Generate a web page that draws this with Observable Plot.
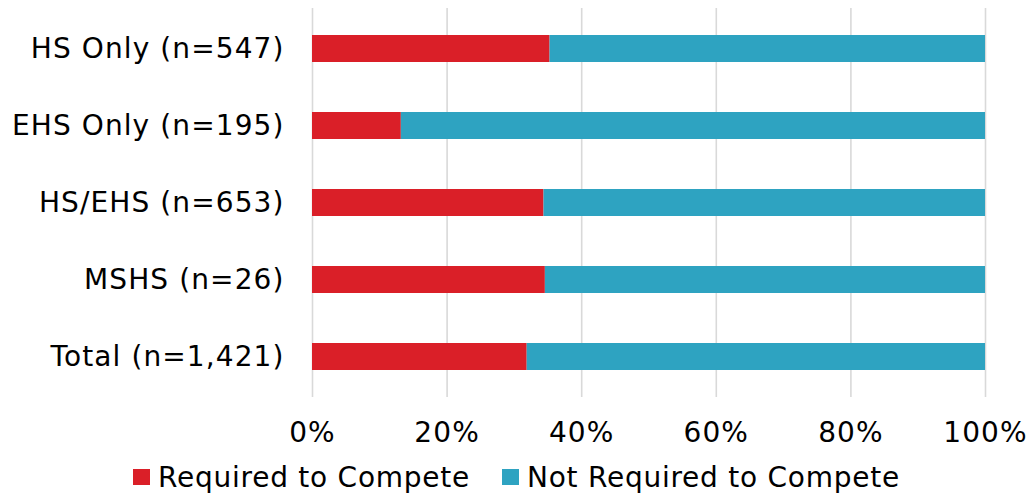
<!DOCTYPE html>
<html>
<head>
<meta charset="utf-8">
<script src="https://cdn.jsdelivr.net/npm/d3@7"></script>
<script src="https://cdn.jsdelivr.net/npm/@observablehq/plot@0.6"></script>
<style>
  body { margin: 0; background: #fff; font-family: "DejaVu Sans", Verdana, sans-serif; }
  #chart { width: 1033px; }
  svg text { letter-spacing: 1.1px; }
  .legend { display: flex; justify-content: center; align-items: center; font-size: 28px; letter-spacing: 0.75px; color: #000; height: 38px; }
  .legend .item { display: flex; align-items: center; }
  .legend .item + .item { margin-left: 32px; }
  .legend .sw { width: 17px; height: 16px; margin-right: 8px; }
</style>
</head>
<body>
<div id="chart"></div>
<script>
const categories = ["HS Only (n=547)", "EHS Only (n=195)", "HS/EHS (n=653)", "MSHS (n=26)", "Total (n=1,421)"];
const series = ["Required to Compete", "Not Required to Compete"];
const required = [35.3, 13.2, 34.4, 34.6, 31.9];
const notRequired = [64.7, 86.8, 65.6, 65.4, 68.1];
const colors = ["#DA1F28", "#2EA3C1"];
const xTicks = [0, 20, 40, 60, 80, 100];

const rows = [];
categories.forEach((c, i) => {
  rows.push({cat: c, series: series[0], value: required[i]});
  rows.push({cat: c, series: series[1], value: notRequired[i]});
});

const plot = Plot.plot({
  width: 1033,
  height: 458,
  marginLeft: 312,
  marginRight: 48,
  marginTop: 8,
  marginBottom: 61,
  style: {fontFamily: '"DejaVu Sans", Verdana, sans-serif', fontSize: "28px", color: "#000", background: "#fff"},
  x: {domain: [0, 100], ticks: xTicks, tickFormat: d => d + "%", label: null},
  y: {domain: categories, paddingInner: 0.646, paddingOuter: 0.323, label: null},
  color: {domain: series, range: colors},
  marks: [
    Plot.gridX(xTicks, {stroke: "#d9d9d9", strokeWidth: 1.6, strokeOpacity: 1}),
    Plot.barX(rows, Plot.stackX({x: "value", y: "cat", fill: "series", order: null})),
    Plot.axisX(xTicks, {tickSize: 0, tickPadding: 25, tickFormat: d => d + "%", fontSize: 28, label: null}),
    Plot.axisY({tickSize: 0, tickPadding: 28, fontSize: 28, label: null})
  ]
});
document.getElementById("chart").appendChild(plot);

const legend = document.createElement("div");
legend.className = "legend";
series.forEach((s, i) => {
  const item = document.createElement("div");
  item.className = "item";
  const sw = document.createElement("span");
  sw.className = "sw";
  sw.style.background = colors[i];
  const t = document.createElement("span");
  t.textContent = s;
  item.appendChild(sw);
  item.appendChild(t);
  legend.appendChild(item);
});
document.getElementById("chart").appendChild(legend);
</script>
</body>
</html>
